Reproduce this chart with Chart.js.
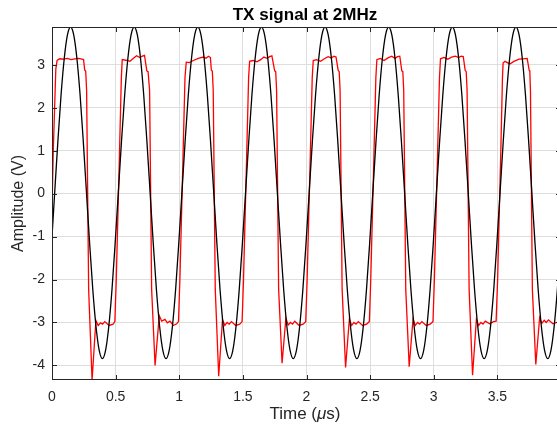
<!DOCTYPE html>
<html>
<head>
<meta charset="utf-8">
<script src="https://cdn.jsdelivr.net/npm/chart.js@4.4.1/dist/chart.umd.min.js"></script>
<style>
html,body{margin:0;padding:0;background:#fff;overflow:hidden;}
#wrap{width:562px;height:426px;overflow:hidden;}
canvas{display:block;}
</style>
</head>
<body>
<div id="wrap"><canvas id="c" width="562" height="426" style="width:562px;height:426px"></canvas></div>
<script>
// ---- data ----
const titleText = 'TX signal at 2MHz';
const xTickLabels = ['0','0.5','1','1.5','2','2.5','3','3.5'];
const yTickLabels = ['-4','-3','-2','-1','0','1','2','3'];

// black reference sine (time in µs, amplitude in V)
const blackTime = [
 0,0.021,0.046,0.071,0.096,0.121,0.146,0.171,0.196,0.221,0.246,0.271,0.296,0.321,0.346,0.371,0.396,0.421,0.446,0.471,0.496,
 0.521,0.546,0.571,0.596,0.621,0.646,0.671,0.696,0.721,0.746,0.771,0.796,0.821,0.846,0.871,0.896,0.921,0.946,0.971,0.996,
 1.021,1.046,1.071,1.096,1.121,1.146,1.171,1.196,1.221,1.246,1.271,1.296,1.321,1.346,1.371,1.396,1.421,1.446,1.471,1.496,
 1.521,1.546,1.571,1.596,1.621,1.646,1.671,1.696,1.721,1.746,1.771,1.796,1.821,1.846,1.871,1.896,1.921,1.946,1.971,1.996,
 2.021,2.046,2.071,2.096,2.121,2.146,2.171,2.196,2.221,2.246,2.271,2.296,2.321,2.346,2.371,2.396,2.421,2.446,2.471,2.496,
 2.521,2.546,2.571,2.596,2.621,2.646,2.671,2.696,2.721,2.746,2.771,2.796,2.821,2.846,2.871,2.896,2.921,2.946,2.971,2.996,
 3.021,3.046,3.071,3.096,3.121,3.146,3.171,3.196,3.221,3.246,3.271,3.296,3.321,3.346,3.371,3.396,3.421,3.446,3.471,3.496,
 3.521,3.546,3.571,3.596,3.621,3.646,3.671,3.696,3.721,3.746,3.771,3.796,3.821,3.846,3.871,3.896,3.921,3.946,3.971,3.996
];
const blackVolt = [
 -1.0,
 0.02,1.21,2.29,3.14,3.69,3.88,3.69,3.14,2.29,1.21,0.02,-1.17,-2.25,-3.10,-3.65,-3.84,-3.65,-3.10,-2.25,-1.17,
 0.02,1.21,2.29,3.14,3.69,3.88,3.69,3.14,2.29,1.21,0.02,-1.17,-2.25,-3.10,-3.65,-3.84,-3.65,-3.10,-2.25,-1.17,
 0.02,1.21,2.29,3.14,3.69,3.88,3.69,3.14,2.29,1.21,0.02,-1.17,-2.25,-3.10,-3.65,-3.84,-3.65,-3.10,-2.25,-1.17,
 0.02,1.21,2.29,3.14,3.69,3.88,3.69,3.14,2.29,1.21,0.02,-1.17,-2.25,-3.10,-3.65,-3.84,-3.65,-3.10,-2.25,-1.17,
 0.02,1.21,2.29,3.14,3.69,3.88,3.69,3.14,2.29,1.21,0.02,-1.17,-2.25,-3.10,-3.65,-3.84,-3.65,-3.10,-2.25,-1.17,
 0.02,1.21,2.29,3.14,3.69,3.88,3.69,3.14,2.29,1.21,0.02,-1.17,-2.25,-3.10,-3.65,-3.84,-3.65,-3.10,-2.25,-1.17,
 0.02,1.21,2.29,3.14,3.69,3.88,3.69,3.14,2.29,1.21,0.02,-1.17,-2.25,-3.10,-3.65,-3.84,-3.65,-3.10,-2.25,-1.17,
 0.02,1.21,2.29,3.14,3.69,3.88,3.69,3.14,2.29,1.21,0.02,-1.17,-2.25,-3.10,-3.65,-3.84,-3.65,-3.10,-2.25,-1.17
];

// red measured TX signal
const redTime = [
 0.000,0.010,0.030,0.040,0.060,0.090,0.120,0.150,0.180,0.210,0.235,0.248,0.257,0.265,0.272,0.288,0.315,0.345,0.363,0.381,0.397,0.415,0.449,0.480,0.494,
 0.505,0.530,0.545,0.552,0.590,0.613,0.640,0.665,0.690,0.710,0.727,0.745,0.755,0.767,0.783,0.810,0.843,0.862,0.888,0.906,0.927,0.953,0.980,0.994,
 1.005,1.030,1.045,1.055,1.080,1.110,1.150,1.190,1.210,1.230,1.245,1.252,1.260,1.267,1.283,1.310,1.340,1.358,1.376,1.392,1.410,1.444,1.475,1.494,
 1.505,1.530,1.545,1.553,1.580,1.610,1.640,1.665,1.690,1.710,1.728,1.750,1.758,1.765,1.781,1.808,1.838,1.856,1.874,1.890,1.908,1.942,1.973,1.994,
 2.005,2.030,2.045,2.053,2.080,2.110,2.140,2.170,2.195,2.215,2.232,2.249,2.257,2.264,2.280,2.307,2.337,2.355,2.373,2.389,2.407,2.441,2.472,2.494,
 2.505,2.530,2.545,2.553,2.580,2.610,2.640,2.670,2.695,2.715,2.733,2.749,2.757,2.764,2.780,2.807,2.837,2.855,2.873,2.889,2.907,2.941,2.972,2.994,
 3.005,3.030,3.045,3.053,3.080,3.110,3.140,3.170,3.195,3.215,3.232,3.247,3.255,3.262,3.278,3.305,3.335,3.353,3.371,3.387,3.405,3.439,3.470,3.490,
 3.502,3.527,3.540,3.545,3.560,3.598,3.630,3.670,3.700,3.734,3.750,3.755,3.760,3.775,3.802,3.832,3.850,3.868,3.884,3.902,3.936,3.967,3.990
];
const redVolt = [
 -0.4,1.0,2.9,3.1,3.14,3.13,3.15,3.12,3.14,3.15,3.13,3.12,2.88,2.85,2.4,-2.23,-4.34,-2.95,-3.07,-3.01,-3.04,-2.98,-3.07,-3.04,-2.98,
 -2.0,0.9,2.7,3.12,3.10,3.08,3.15,3.21,3.17,3.20,3.22,2.86,2.84,2.4,-2.23,-4.00,-2.84,-2.97,-2.93,-3.01,-2.97,-3.07,-3.03,-2.98,
 -2.0,0.9,2.7,3.06,3.05,3.10,3.15,3.18,3.15,3.20,3.17,2.88,2.85,2.4,-2.23,-4.25,-2.93,-3.07,-3.00,-3.04,-2.98,-3.07,-3.04,-2.98,
 -2.0,0.9,2.7,3.08,3.10,3.07,3.12,3.18,3.15,3.19,3.21,2.86,2.84,2.4,-2.23,-3.95,-2.90,-3.06,-3.00,-3.04,-2.97,-3.07,-3.04,-2.98,
 -2.0,0.9,2.7,3.10,3.12,3.08,3.14,3.19,3.16,3.20,3.18,2.87,2.84,2.4,-2.23,-4.05,-2.92,-3.07,-3.00,-3.04,-2.98,-3.07,-3.04,-2.98,
 -2.0,0.9,2.7,3.12,3.15,3.10,3.16,3.20,3.15,3.19,3.20,2.86,2.84,2.4,-2.23,-4.03,-2.92,-3.07,-3.00,-3.04,-2.98,-3.07,-3.04,-2.98,
 -2.0,0.9,2.7,3.14,3.17,3.13,3.18,3.20,3.17,3.20,3.19,2.87,2.84,2.4,-2.23,-4.23,-2.93,-3.07,-3.00,-3.04,-2.97,-3.03,-2.98,-2.97,
 -2.0,1.0,2.7,3.04,3.08,3.02,3.08,3.13,3.14,3.15,2.87,2.84,2.4,-2.23,-3.98,-2.89,-3.02,-2.95,-3.00,-2.94,-3.03,-3.00,-2.98
];

const xMin = 0, xMax = 4, xStep = 0.5;
const yMin = -4.34, yMax = 3.88, yStep = 1;

// ---- chart ----
const FONT = '"Liberation Sans", Arial, Helvetica, sans-serif';
const AXC = '#262626';
const blackPts = blackTime.map((t, i) => ({x: t, y: blackVolt[i]}));
const redPts = redTime.map((t, i) => ({x: t, y: redVolt[i]}));

const framePlugin = {
  id: 'frame',
  afterDraw(chart) {
    const {ctx, chartArea: a, scales: {x, y}} = chart;
    ctx.save();
    ctx.strokeStyle = AXC;
    ctx.lineWidth = 1;
    ctx.strokeRect(a.left + 0.5, a.top + 0.5, a.right - a.left - 1, a.bottom - a.top - 1);
    const L = 5;
    ctx.beginPath();
    x.ticks.forEach(t => {
      const px = Math.round(x.getPixelForValue(t.value)) + 0.5;
      ctx.moveTo(px, a.bottom); ctx.lineTo(px, a.bottom - L);
      ctx.moveTo(px, a.top); ctx.lineTo(px, a.top + L);
    });
    y.ticks.forEach(t => {
      const py = Math.round(y.getPixelForValue(t.value)) + 0.5;
      ctx.moveTo(a.left, py); ctx.lineTo(a.left + L, py);
      ctx.moveTo(a.right, py); ctx.lineTo(a.right - L, py);
    });
    ctx.stroke();

    // title
    const cx = 305;
    ctx.fillStyle = '#000';
    ctx.textAlign = 'center';
    ctx.textBaseline = 'alphabetic';
    ctx.font = 'bold 17px ' + FONT;
    ctx.fillText(titleText, cx, 20);

    // x axis label with italic mu
    ctx.fillStyle = AXC;
    const f1 = '17px ' + FONT, f2 = 'italic 17px ' + FONT;
    const parts = [['Time (', f1], ['\u03bc', f2], ['s)', f1]];
    let w = 0;
    parts.forEach(p => { ctx.font = p[1]; w += ctx.measureText(p[0]).width; });
    let xx = cx - w / 2;
    ctx.textAlign = 'left';
    parts.forEach(p => { ctx.font = p[1]; ctx.fillText(p[0], xx, 419); xx += ctx.measureText(p[0]).width; });

    // y axis label
    ctx.save();
    ctx.translate(23, (a.top + a.bottom) / 2);
    ctx.rotate(-Math.PI / 2);
    ctx.textAlign = 'center';
    ctx.font = '16px ' + FONT;
    ctx.fillText('Amplitude (V)', 0, 0);
    ctx.restore();
    ctx.restore();
  }
};

new Chart(document.getElementById('c'), {
  type: 'line',
  data: {
    datasets: [
      {data: blackPts, borderColor: '#000000', borderWidth: 1.3, pointRadius: 0, cubicInterpolationMode: 'monotone', fill: false},
      {data: redPts, borderColor: '#ff0000', borderWidth: 1.3, pointRadius: 0, tension: 0, fill: false}
    ]
  },
  options: {
    responsive: false,
    animation: false,
    devicePixelRatio: 1,
    layout: {padding: {top: 27, right: 1, left: 0, bottom: 0}},
    plugins: {legend: {display: false}, tooltip: {enabled: false}, title: {display: false}},
    scales: {
      x: {
        type: 'linear', min: xMin, max: xMax,
        ticks: {
          stepSize: xStep, includeBounds: false, autoSkip: false, maxRotation: 0,
          color: AXC, font: {family: FONT, size: 14}, padding: 9,
          callback: (v) => { const i = Math.round(v / xStep); return xTickLabels[i] !== undefined ? xTickLabels[i] : ''; }
        },
        grid: {color: '#dedede', lineWidth: 1, drawTicks: false},
        border: {display: false},
        afterFit(s) { s.height = 46; s.paddingLeft = 0; s.paddingRight = 0; }
      },
      y: {
        type: 'linear', min: yMin, max: yMax,
        ticks: {
          stepSize: yStep, includeBounds: false, autoSkip: false,
          color: AXC, font: {family: FONT, size: 14}, padding: 7,
          callback: (v) => { const i = Math.round(v) + 4; return yTickLabels[i] !== undefined ? yTickLabels[i] : ''; }
        },
        grid: {color: '#dedede', lineWidth: 1, drawTicks: false},
        border: {display: false},
        afterFit(s) { s.width = 52; s.paddingTop = 0; s.paddingBottom = 0; }
      }
    }
  },
  plugins: [framePlugin]
});
</script>
</body>
</html>
